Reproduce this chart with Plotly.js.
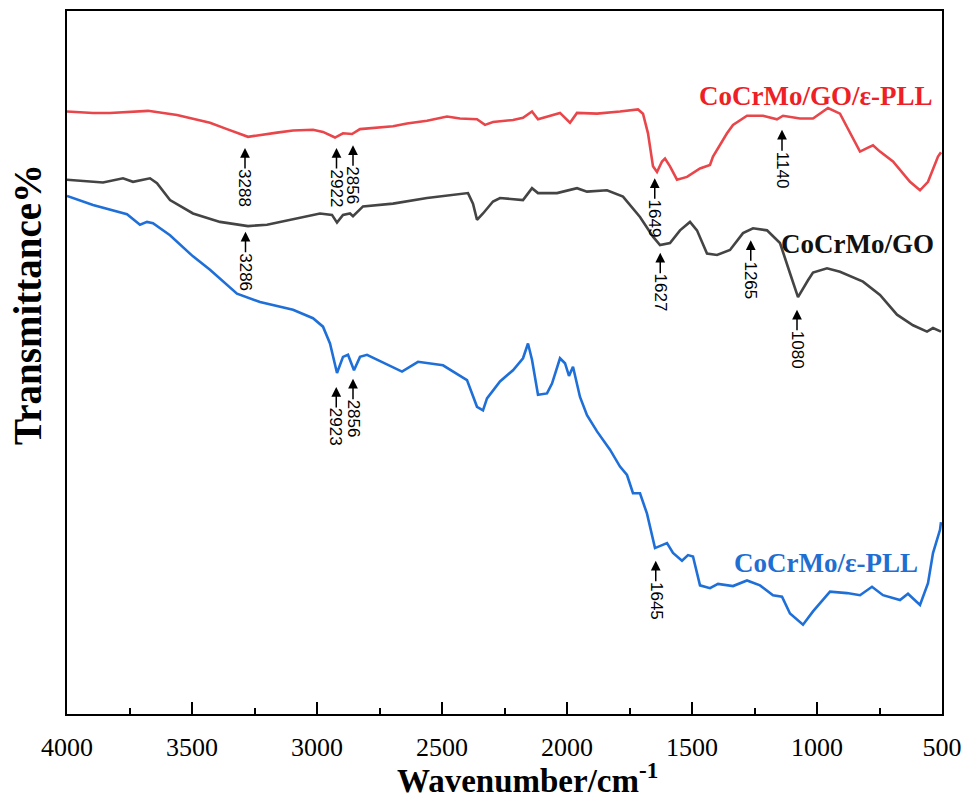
<!DOCTYPE html>
<html>
<head>
<meta charset="utf-8">
<script src="https://cdn.plot.ly/plotly-3.0.1.min.js"></script>
<style>
html,body{margin:0;padding:0;background:#fff;}
#chart{width:964px;height:798px;}
</style>
</head>
<body>
<div id="chart"></div>
<script>
// Wavenumber (cm-1) and transmittance (arbitrary, offset) values
const wnRed = [4000,3896,3828,3676,3560,3428,3360,3276,3160,3096,3016,2976,2928,2896,2860,2828,2696,2640,2560,2480,2428,2360,2328,2296,2216,2176,2140,2116,2028,1988,1960,1880,1788,1716,1696,1676,1656,1640,1620,1608,1588,1560,1520,1468,1428,1416,1360,1336,1280,1216,1160,1136,1068,1016,956,908,880,828,800,776,748,696,628,588,556,516,504];
const tRed  = [85.7,85.5,85.5,85.8,85.2,84.1,83.2,82.1,82.7,83.0,83.1,82.8,82.0,82.6,82.5,83.2,83.6,84.0,84.4,85.0,84.7,84.6,83.8,84.2,84.5,84.8,85.7,84.6,85.5,84.1,85.5,85.4,85.7,86.0,85.4,82.6,77.9,77.1,78.6,79.0,77.9,76.0,76.4,77.6,78.1,79.3,82.6,83.8,85.1,85.1,84.6,85.1,84.7,84.7,86.2,85.4,83.5,80.0,80.5,80.9,80.0,78.6,75.7,74.5,75.7,79.3,79.9];

const wnGray = [4000,3856,3776,3736,3668,3640,3588,3496,3388,3276,3200,3096,2988,2940,2920,2896,2868,2856,2816,2696,2560,2396,2376,2360,2336,2296,2268,2176,2140,2116,2040,1960,1920,1840,1776,1708,1656,1628,1588,1548,1508,1480,1440,1400,1348,1296,1256,1200,1148,1108,1076,1036,1016,960,908,816,748,680,616,560,536,504];
const tGray  = [76.0,75.6,76.2,75.7,76.2,75.5,73.1,71.2,70.0,69.4,69.6,70.4,71.2,71.0,69.9,71.0,71.2,70.8,72.2,72.6,73.4,74.1,72.6,70.3,71.2,72.9,73.4,73.1,74.8,74.1,74.1,74.8,74.3,74.5,73.6,70.7,67.9,66.7,67.0,68.8,70.0,68.8,65.5,65.3,66.0,68.4,69.1,68.8,67.0,62.7,59.3,61.7,62.8,63.4,62.9,61.5,59.6,56.8,55.3,54.4,54.9,54.4];

const wnBlue = [4000,3896,3760,3708,3680,3656,3588,3496,3428,3320,3228,3096,3016,2976,2948,2920,2896,2876,2852,2828,2800,2660,2596,2496,2400,2360,2336,2320,2268,2216,2176,2156,2140,2116,2080,2060,2028,2008,1992,1976,1948,1920,1880,1828,1788,1760,1736,1708,1680,1648,1600,1576,1540,1516,1496,1468,1428,1396,1336,1280,1228,1176,1140,1108,1056,1016,948,880,828,780,736,668,636,588,556,536,508,504];
const tBlue  = [73.7,72.4,71.1,69.6,70.0,69.8,68.1,65.1,63.2,59.8,58.6,57.5,56.3,55.1,52.7,48.5,50.8,51.1,48.9,50.8,51.1,48.7,50.1,49.6,47.5,43.7,43.2,44.9,47.3,48.9,50.6,52.7,50.4,45.4,45.6,47.0,50.6,49.9,48.1,49.4,45.1,42.5,40.2,37.6,35.2,34.0,31.4,31.4,28.5,23.6,24.3,22.9,21.8,22.6,22.4,18.3,17.9,18.5,18.2,19.0,18.3,16.9,16.7,14.3,12.7,14.6,17.4,17.2,16.9,18.1,16.9,16.2,17.1,15.5,18.6,22.9,26.2,27.3];

// Series names
const seriesNames = ["CoCrMo/GO/ε-PLL", "CoCrMo/GO", "CoCrMo/ε-PLL"];

// Peak marks: wavenumber and the level of the arrow tip
const peakRedWn  = [3288, 2922, 2856, 1649, 1140];
const peakRedT   = [80.5, 80.5, 80.9, 76.2, 83.1];
const peakGrayWn = [3286, 1627, 1265, 1080];
const peakGrayT  = [68.6, 65.6, 67.4, 57.5];
const peakBlueWn = [2923, 2856, 1645];
const peakBlueT  = [46.5, 47.7, 21.8];

// Series label positions (data coordinates)
const labelWn = [528, 524, 588];
const labelT  = [87.9, 66.9, 21.5];

// Axis titles and tick values
const xTitle = "Wavenumber/cm<sup>-1</sup>";
const yTitle = "Transmittance%";
const xTickVals = [4000, 3500, 3000, 2500, 2000, 1500, 1000, 500];

const lineColors  = ["#e8464a", "#444444", "#1f6fd8"];
const labelColors = ["#ee1f26", "#111111", "#1f6fd2"];

const SERIF = "Liberation Serif";

const traces = [
  {x: wnRed,  y: tRed,  name: seriesNames[0]},
  {x: wnGray, y: tGray, name: seriesNames[1]},
  {x: wnBlue, y: tBlue, name: seriesNames[2]}
].map((t, i) => Object.assign(t, {
  type: "scatter", mode: "lines",
  line: {color: lineColors[i], width: 2.6, shape: "linear"},
  hoverinfo: "skip"
}));

const annotations = [];
function addPeaks(wns, ts) {
  wns.forEach((w, i) => {
    annotations.push({
      x: w, y: ts[i], xref: "x", yref: "y",
      text: String(w), textangle: 90,
      showarrow: true, arrowhead: 2, arrowsize: 1.3, arrowwidth: 1.5,
      arrowcolor: "#000", ax: 0, ay: 40, standoff: 0, borderpad: 0,
      font: {family: "Liberation Sans", size: 17, color: "#000"}
    });
  });
}
addPeaks(peakRedWn, peakRedT);
addPeaks(peakGrayWn, peakGrayT);
addPeaks(peakBlueWn, peakBlueT);

seriesNames.forEach((n, i) => {
  annotations.push({
    x: labelWn[i], y: labelT[i], xref: "x", yref: "y",
    text: "<b>" + n + "</b>", showarrow: false,
    xanchor: "right", yanchor: "middle",
    font: {family: SERIF, size: 27, color: labelColors[i]}
  });
});

// axis titles placed as annotations to match their positions
annotations.push({
  x: -0.046, y: 0.583, xref: "paper", yref: "paper",
  text: "<b>" + yTitle + "</b>", textangle: -90, showarrow: false,
  xanchor: "center", yanchor: "middle",
  font: {family: SERIF, size: 39, color: "#000"}
});
annotations.push({
  x: 0.526, y: -0.091, xref: "paper", yref: "paper",
  text: "<b>" + xTitle + "</b>", showarrow: false,
  xanchor: "center", yanchor: "middle",
  font: {family: SERIF, size: 33, color: "#000"}
});

const layout = {
  width: 964, height: 798,
  margin: {l: 67, r: 22, t: 11, b: 84},
  paper_bgcolor: "#fff", plot_bgcolor: "#fff",
  font: {family: SERIF, color: "#000"},
  showlegend: false,
  xaxis: {
    range: [4000, 500],
    tickmode: "array", tickvals: xTickVals, ticktext: xTickVals.map(String),
    ticks: "inside", ticklen: 12, tickwidth: 2, tickcolor: "#000",
    minor: {ticks: "inside", ticklen: 6, tickwidth: 2, tickcolor: "#000", dtick: 250, tick0: 500, showgrid: false},
    showline: true, mirror: true, linewidth: 2, linecolor: "#000",
    showgrid: false, zeroline: false,
    ticklabelstandoff: 9,
    tickfont: {family: SERIF, size: 26, color: "#000"}
  },
  yaxis: {
    range: [0, 100],
    showline: true, mirror: true, linewidth: 2, linecolor: "#000",
    showticklabels: false, ticks: "", showgrid: false, zeroline: false
  },
  annotations: annotations
};

Plotly.newPlot("chart", traces, layout, {staticPlot: true, displayModeBar: false});
</script>
</body>
</html>
